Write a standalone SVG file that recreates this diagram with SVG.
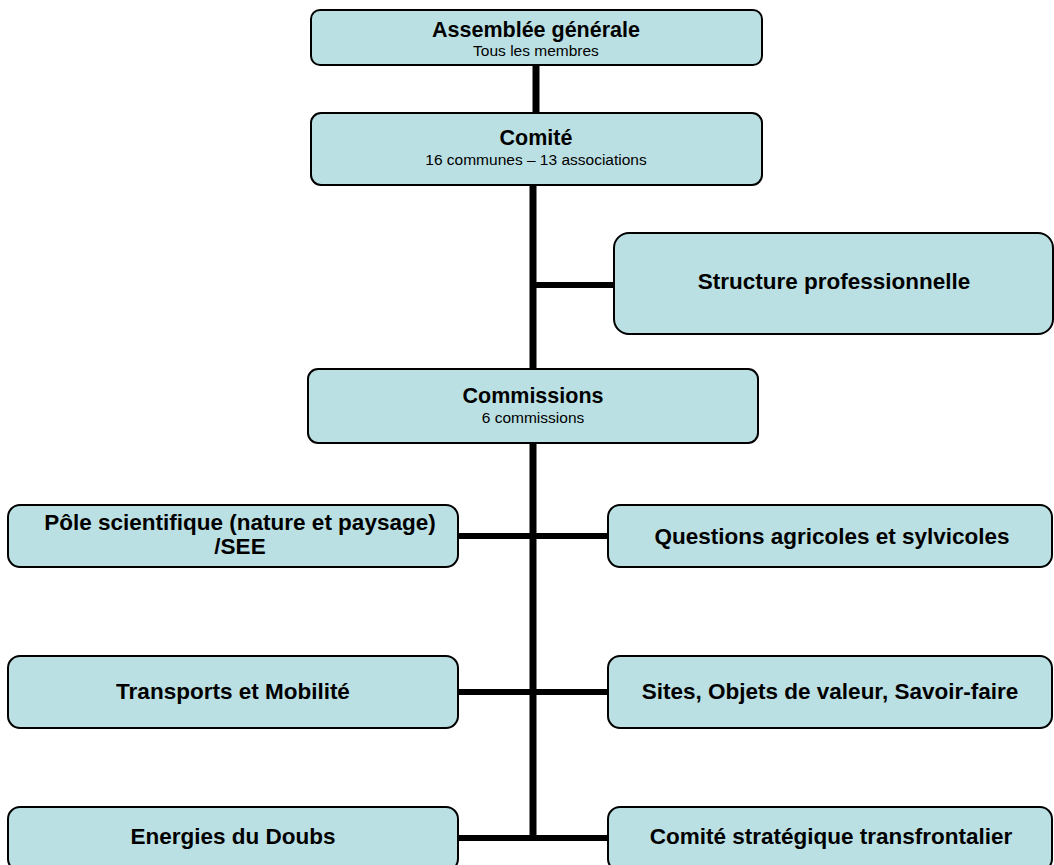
<svg xmlns="http://www.w3.org/2000/svg" width="1054" height="865" viewBox="0 0 1054 865">
<style>
.box{fill:#BBE0E3;stroke:#000;stroke-width:2}
.t{font-family:"Liberation Sans",Arial,sans-serif;font-weight:bold;font-size:21.5px;fill:#000;text-anchor:middle}
.r{font-family:"Liberation Sans",Arial,sans-serif;font-weight:bold;font-size:22.5px;fill:#000;text-anchor:middle}
.s{font-family:"Liberation Sans",Arial,sans-serif;font-size:15.5px;fill:#000;text-anchor:middle}
.c{stroke:#000;fill:none}
</style>
<rect width="1054" height="865" fill="#fff"/>
<g id="connectors">
<line class="c" x1="536" y1="65" x2="536" y2="113" stroke-width="7"/>
<line class="c" x1="533" y1="185" x2="533" y2="369" stroke-width="7"/>
<line class="c" x1="533" y1="443" x2="533" y2="841" stroke-width="7"/>
<line class="c" x1="533" y1="285" x2="614" y2="285" stroke-width="6"/>
<line class="c" x1="458" y1="536" x2="608" y2="536" stroke-width="6"/>
<line class="c" x1="458" y1="692" x2="608" y2="692" stroke-width="6"/>
<line class="c" x1="458" y1="838" x2="608" y2="838" stroke-width="6"/>
</g>
<g id="assemblee">
<rect class="box" x="311" y="10" width="451" height="55" rx="9"/>
<text class="t" x="536" y="37">Assemblée générale</text>
<text class="s" x="536" y="56">Tous les membres</text>
</g>
<g id="comite">
<rect class="box" x="311" y="113" width="451" height="72" rx="10"/>
<text class="t" x="536" y="145">Comité</text>
<text class="s" x="536" y="165">16 communes – 13 associations</text>
</g>
<g id="structure">
<rect class="box" x="614" y="233" width="439" height="101" rx="15"/>
<text class="r" x="834" y="289">Structure professionnelle</text>
</g>
<g id="commissions">
<rect class="box" x="308" y="369" width="450" height="74" rx="10"/>
<text class="t" x="533" y="403">Commissions</text>
<text class="s" x="533" y="423">6 commissions</text>
</g>
<g id="pole">
<rect class="box" x="8" y="505" width="450" height="62" rx="12"/>
<text class="r" x="240" y="530">Pôle scientifique (nature et paysage)</text>
<text class="r" x="240" y="554">/SEE</text>
</g>
<g id="questions">
<rect class="box" x="608" y="505" width="444" height="62" rx="12"/>
<text class="r" x="832" y="544">Questions agricoles et sylvicoles</text>
</g>
<g id="transports">
<rect class="box" x="8" y="656" width="450" height="72" rx="12"/>
<text class="r" x="233" y="699">Transports et Mobilité</text>
</g>
<g id="sites">
<rect class="box" x="608" y="656" width="444" height="72" rx="12"/>
<text class="r" x="830" y="699">Sites, Objets de valeur, Savoir-faire</text>
</g>
<g id="energies">
<rect class="box" x="8" y="807" width="450" height="64" rx="12"/>
<text class="r" x="233" y="844">Energies du Doubs</text>
</g>
<g id="strategique">
<rect class="box" x="608" y="807" width="444" height="64" rx="12"/>
<text class="r" x="831" y="844">Comité stratégique transfrontalier</text>
</g>
</svg>
